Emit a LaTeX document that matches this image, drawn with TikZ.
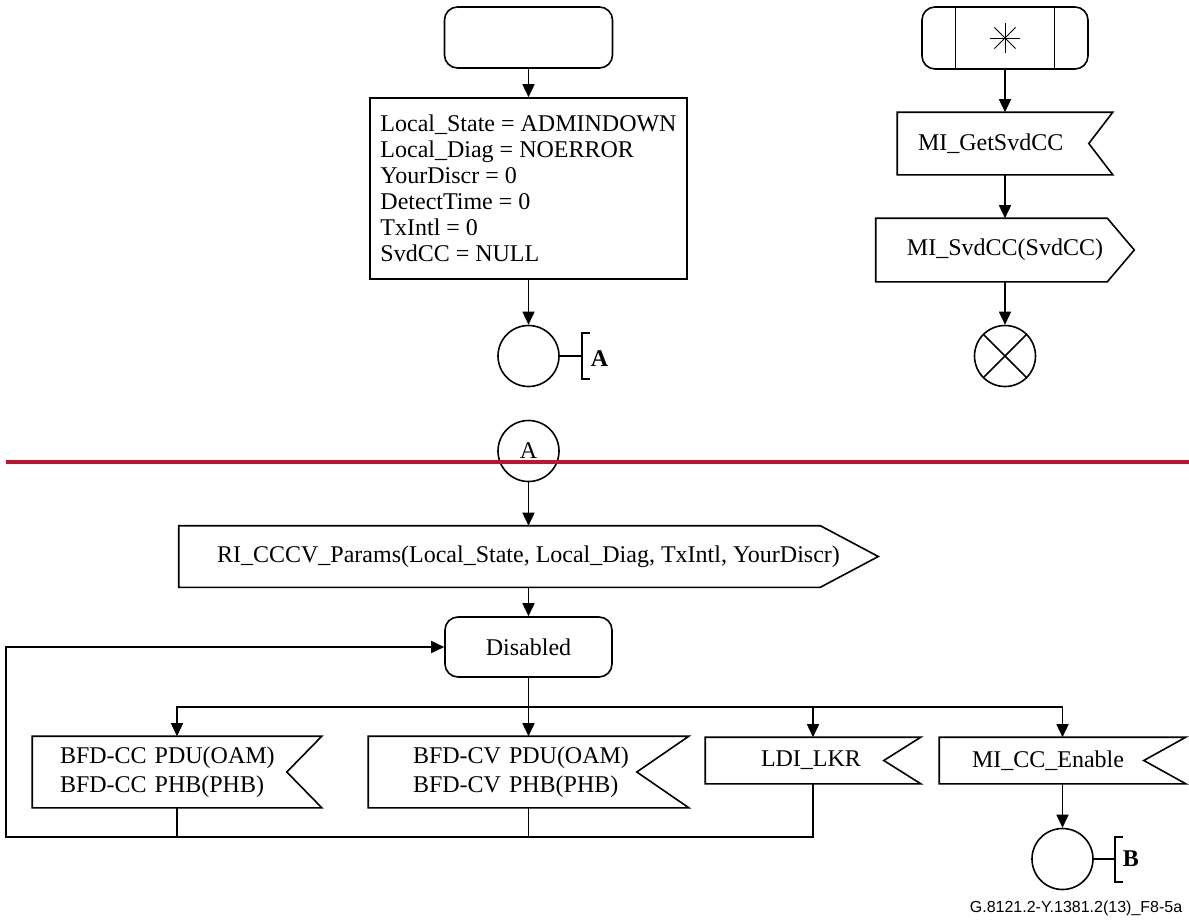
\documentclass[tikz,border=0pt]{standalone}
\usepackage{fontspec}
\setmainfont{Liberation Serif}
\newfontfamily\capfont{Liberation Sans}
\usetikzlibrary{arrows.meta}
\definecolor{itured}{RGB}{190,20,50}
% signal outlines drawn round a named node
\newcommand\insig[2]{\draw (#1.north west) -- (#1.north east)
  -- ([xshift=-#2]#1.east) -- (#1.south east) -- (#1.south west) -- cycle;}
\newcommand\outsig[2]{\draw (#1.north west) -- ([xshift=-#2]#1.north east)
  -- (#1.east) -- ([xshift=-#2]#1.south east) -- (#1.south west) -- cycle;}
\tikzset{
  state/.style={draw, rounded corners=6.5pt, inner sep=0pt,
    font=\fontsize{12}{13}\selectfont},
  task/.style={draw, align=left, inner xsep=5.25pt, minimum width=158.5pt,
    minimum height=90.5pt, font=\fontsize{12}{13}\selectfont},
  flag/.style={inner xsep=0pt, inner ysep=0pt, align=left,
    font=\fontsize{12}{14.5}\selectfont},
  conn/.style={draw, circle, minimum size=30.5pt, inner sep=0pt,
    font=\fontsize{12}{13}\selectfont},
  lbl/.style={anchor=west, inner sep=0pt, font=\fontsize{12}{13}\selectfont\bfseries}
}
\begin{document}
\begin{tikzpicture}[x=0.5pt,y=-0.5pt,>={Triangle[length=6.5pt,width=6pt]},line width=0.8pt]
  \useasboundingbox (0,0) rectangle (1189,921);
  %
  % Start transition
  \node[state,minimum width=84pt,minimum height=30.5pt] (start) at (528.5,37.5) {};
  \node[task] (init) at (528.5,188.5) {Local\_State = ADMINDOWN\\Local\_Diag = NOERROR\\
    YourDiscr = 0\\DetectTime = 0\\TxIntl = 0\\SvdCC = NULL};
  \node[conn] (outA) at (528.5,356) {};
  \draw[->] (start) -- (init);
  \draw[->] (init) -- (outA);
  \draw (outA.east) -- ++(22,0) ++(8,-23) -- ++(-8,0) -- ++(0,46) -- ++(8,0);
  \node[lbl] (labA) at (590,359) {A};
  %
  % Spontaneous transition
  \node[state,minimum width=83pt,minimum height=31pt] (spont) at (1005,38) {};
  \draw[line width=0.5pt] ([xshift=17pt]spont.north west) -- ([xshift=17pt]spont.south west);
  \draw[line width=0.5pt] ([xshift=-17pt]spont.north east) -- ([xshift=-17pt]spont.south east);
  \foreach \a in {0,45,90,135}
    \draw[line width=0.5pt] (spont.center) ++(\a:15) -- ++(\a+180:30);
  \node[flag,minimum height=30.5pt,text width=87pt,inner xsep=10pt] (getsvd) at (1005,143.5) {MI\_GetSvdCC};
  \insig{getsvd}{12pt}
  \node[flag,minimum width=128.5pt,minimum height=31pt] (svdout) at (1005,250) {MI\_SvdCC(SvdCC)};
  \outsig{svdout}{13.5pt}
  \node[conn] (stop) at (1005,356) {};
  \draw (stop.45) -- (stop.225) (stop.135) -- (stop.315);
  \draw[->] (spont) -- (getsvd);
  \draw[->] (getsvd) -- (svdout);
  \draw[->] (svdout) -- (stop);
  %
  % Page separator
  \node[conn] (inA) at (528.5,451) {A};
  \draw[itured,line width=1.7pt] (6,462) -- (1189,462);
  %
  % Disabled state
  \node[flag,minimum width=349pt,minimum height=30pt] (params) at (528.5,556.5)
    {RI\_CCCV\_Params(Local\_State, Local\_Diag, TxIntl, YourDiscr)};
  \outsig{params}{29pt}
  \node[state,minimum width=83.5pt,minimum height=30pt] (dis) at (528.5,647) {Disabled};
  \draw[->] (inA) -- (params);
  \draw[->] (params) -- (dis);
  %
  % Inputs
  \node[flag,minimum height=35pt,text width=117pt,inner xsep=13.5pt] (bfdcc) at (177,772)
    {BFD-CC PDU(OAM)\\BFD-CC PHB(PHB)};
  \insig{bfdcc}{17.5pt}
  \node[flag,minimum height=35pt,text width=115.5pt,inner xsep=22pt] (bfdcv) at (528.5,772)
    {BFD-CV PDU(OAM)\\BFD-CV PHB(PHB)};
  \insig{bfdcv}{26pt}
  \node[flag,minimum height=22.5pt,text width=52pt,inner xsep=27.5pt] (ldi) at (813,760.5) {LDI\_LKR};
  \insig{ldi}{18.5pt}
  \node[flag,minimum height=22.5pt,text width=90.5pt,inner xsep=16pt] (micc) at (1062.5,760.5) {MI\_CC\_Enable};
  \insig{micc}{21pt}
  \node[conn] (outB) at (1062.5,859) {};
  \draw (outB.east) -- ++(21,0) ++(8,-22) -- ++(-8,0) -- ++(0,45) -- ++(8,0);
  \node[lbl] (labB) at (1122,859) {B};
  %
  % Connectors
  \coordinate (split) at (528.5,707);
  \coordinate (back) at (6,837);
  \draw[->] (dis) -- (bfdcv);
  \draw[->] (split) -| (bfdcc.north);
  \draw[->] (split) -| (ldi.north);
  \draw[->] (split) -| (micc.north);
  \draw[->] (ldi.south) |- (back) |- (dis.west);
  \draw (bfdcc.south) -- (bfdcc.south |- back);
  \draw (bfdcv.south) -- (bfdcv.south |- back);
  \draw[->] (micc) -- (outB);
  %
  \node[anchor=east,inner sep=0pt,font=\capfont\fontsize{8}{9.6}\selectfont] (cap) at (1183,908)
    {G.8121.2-Y.1381.2(13)\_F8-5a};
\end{tikzpicture}
\end{document}
